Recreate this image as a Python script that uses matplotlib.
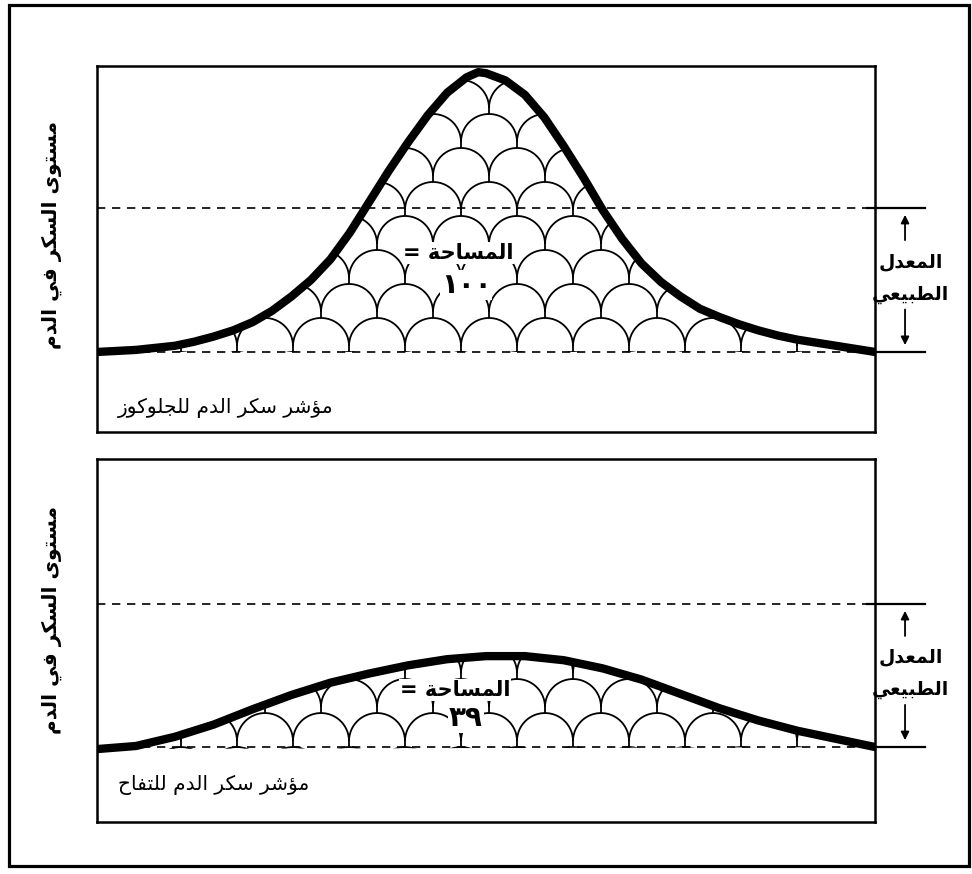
import numpy as np
import matplotlib
matplotlib.use("Agg")
import matplotlib.pyplot as plt
from matplotlib.collections import LineCollection
from matplotlib.patches import Polygon, Rectangle

# Blood glucose response curves (mg/dL), time in arbitrary units
glucose_x = [0, 2.5, 5, 7.5, 10, 12.5, 15, 17.5, 20, 22.5, 25, 27.5, 30, 32.5, 35, 37.5,
             40, 42.5, 45, 47.5, 49, 50, 52.5, 55, 57.5, 60, 62.5, 65, 67.5, 70, 72.5,
             75, 77.5, 80, 82.5, 85, 87.5, 90, 92.5, 95, 97.5, 100]
glucose_y = [70, 70.5, 71, 72, 73, 75, 77.5, 80.5, 84.5, 90, 97, 105, 115, 128, 143, 158,
             172, 185, 196, 203.5, 206, 205.5, 202, 195, 184, 170, 155, 139, 125, 113, 104,
             97, 91, 87, 83.5, 80.5, 78, 76, 74.5, 73, 71.5, 70]

apple_x = [0, 5, 10, 15, 20, 25, 30, 35, 40, 45, 50, 55, 60, 65, 70, 75, 80, 85, 90, 95, 100]
apple_y = [69, 70.5, 75, 81, 88.5, 95.5, 101.5, 106, 110, 113, 114.5, 114.5, 112.5, 108.5,
           103, 96, 89, 83, 78, 74, 70]

normal_low, normal_high = 70, 140
areas = [100, 39]

ylabel = "مستوى السكر في الدم"
panel_titles = ["مؤشر سكر الدم للجلوكوز", "مؤشر سكر الدم للتفاح"]
area_label = "المساحة ="
range_label = ["المعدل", "الطبيعي"]

# matplotlib does no Arabic shaping: pick contextual forms by hand
FORMS = {  # isolated, final, initial, medial
    'ا': '\uFE8D\uFE8E', 'ؤ': '\uFE85\uFE86', 'د': '\uFEA9\uFEAA', 'ر': '\uFEAD\uFEAE',
    'ز': '\uFEAF\uFEB0', 'و': '\uFEED\uFEEE', 'ة': '\uFE93\uFE94', 'ى': '\uFEEF\uFEF0',
    'ب': '\uFE8F\uFE90\uFE91\uFE92', 'ت': '\uFE95\uFE96\uFE97\uFE98',
    'ج': '\uFE9D\uFE9E\uFE9F\uFEA0', 'ح': '\uFEA1\uFEA2\uFEA3\uFEA4',
    'س': '\uFEB1\uFEB2\uFEB3\uFEB4', 'ش': '\uFEB5\uFEB6\uFEB7\uFEB8',
    'ط': '\uFEC1\uFEC2\uFEC3\uFEC4', 'ع': '\uFEC9\uFECA\uFECB\uFECC',
    'ف': '\uFED1\uFED2\uFED3\uFED4', 'ك': '\uFED9\uFEDA\uFEDB\uFEDC',
    'ل': '\uFEDD\uFEDE\uFEDF\uFEE0', 'م': '\uFEE1\uFEE2\uFEE3\uFEE4',
    'ي': '\uFEF1\uFEF2\uFEF3\uFEF4',
}


def shape(text):
    out = []
    for i, ch in enumerate(text):
        if ch not in FORMS:
            out.append(ch)
            continue
        prev = text[i - 1] if i > 0 else ''
        nxt = text[i + 1] if i + 1 < len(text) else ''
        join_prev = prev in FORMS and len(FORMS[prev]) == 4
        join_next = len(FORMS[ch]) == 4 and nxt in FORMS
        f = FORMS[ch]
        if join_prev and join_next:
            out.append(f[3])
        elif join_prev:
            out.append(f[1])
        elif join_next:
            out.append(f[2])
        else:
            out.append(f[0])
    return ''.join(out)[::-1]


def arabic_digits(n):
    return str(n).translate(str.maketrans('0123456789', '٠١٢٣٤٥٦٧٨٩'))


W, H = 972, 874
fig = plt.figure(figsize=(W / 100, H / 100), dpi=100)
plt.rcParams['font.family'] = ['DejaVu Sans']

# outer frame
fig.patches.append(Rectangle((9 / W, 1 - 866 / H), 960 / W, 861 / H, transform=fig.transFigure,
                             fill=False, lw=2.3, ec='black'))

panels = [
    dict(x=glucose_x, y=glucose_y, rect=[97, 66, 778, 366], ylim=(31.1, 209.0),
         title_y=408, area_xy=(458, 253), num_y=285, ylabel_y=235),
    dict(x=apple_x, y=apple_y, rect=[97, 459, 778, 363], ylim=(33.3, 211.0),
         title_y=785, area_xy=(455, 690), num_y=718, ylabel_y=620),
]

for p, area, title in zip(panels, areas, panel_titles):
    left, top, w, h = p['rect']
    ax = fig.add_axes([left / W, 1 - (top + h) / H, w / W, h / H])
    ax.set_xlim(0, 100)
    ax.set_ylim(*p['ylim'])
    ax.set_xticks([])
    ax.set_yticks([])
    for s in ax.spines.values():
        s.set_linewidth(1.8)

    ax.axhline(normal_low, color='black', lw=1.2, ls=(0, (5, 4)), zorder=2)
    ax.axhline(normal_high, color='black', lw=1.2, ls=(0, (5, 4)), zorder=2)

    # fish-scale pattern under the curve
    ppx = w / 100
    ppy = h / (p['ylim'][1] - p['ylim'][0])
    r, stem, step_y, step_x = 28, 6, 34, 56
    theta = np.linspace(0, np.pi, 30)
    segs = []
    for k in range(-1, 10):
        yb = normal_low + k * step_y / ppy
        cy = yb + stem / ppy
        off = (k % 2) * step_x / 2
        for cx_px in np.arange(off - step_x, w + step_x, step_x):
            cx = cx_px / ppx
            segs.append(np.column_stack([cx + r * np.cos(theta) / ppx,
                                         cy + r * np.sin(theta) / ppy]))
            segs.append([[cx + r / ppx, cy], [cx + r / ppx, yb]])
    clip = Polygon(np.column_stack([p['x'], p['y']]), closed=True, transform=ax.transData)
    lc = LineCollection(segs, colors='black', linewidths=1.3, zorder=3)
    lc.set_clip_path(clip)
    ax.add_collection(lc)

    ax.plot(p['x'], p['y'], color='black', lw=6, zorder=4,
            solid_capstyle='round', solid_joinstyle='round')

    # normal range bracket on the right
    tr = ax.get_yaxis_transform()
    for yv in (normal_low, normal_high):
        ax.plot([0.99, 1.064], [yv, yv], color='black', lw=1.6, transform=tr, clip_on=False)
    ax.annotate('', xy=(1.0386, 138), xytext=(1.0386, 123), xycoords=tr, textcoords=tr,
                arrowprops=dict(arrowstyle='-|>', color='black', lw=1.3, mutation_scale=12))
    ax.annotate('', xy=(1.0386, 72), xytext=(1.0386, 92), xycoords=tr, textcoords=tr,
                arrowprops=dict(arrowstyle='-|>', color='black', lw=1.3, mutation_scale=12))
    ax.text(1.046, 114, shape(range_label[0]), transform=tr, ha='center', va='center',
            fontsize=13.5, fontweight='bold', zorder=6)
    ax.text(1.046, 98, shape(range_label[1]), transform=tr, ha='center', va='center',
            fontsize=13.5, fontweight='bold', zorder=6)

    fig.text(118 / W, 1 - p['title_y'] / H, shape(title), ha='left', va='center', fontsize=14.5)
    fig.text(52 / W, 1 - p['ylabel_y'] / H, shape(ylabel), ha='center', va='center',
             rotation=90, fontsize=14.5, fontweight='bold')
    ax_x, ax_y = p['area_xy']
    fig.text(ax_x / W, 1 - ax_y / H, shape(area_label), ha='center', va='center',
             fontsize=15, fontweight='bold', zorder=6,
             bbox=dict(fc='white', ec='none', pad=0.5))
    fig.text(466 / W, 1 - p['num_y'] / H, arabic_digits(area), ha='center', va='center',
             fontsize=20, fontweight='bold', zorder=6,
             bbox=dict(fc='white', ec='none', pad=0.5))

fig.savefig('out.png', dpi=100, facecolor='white')
